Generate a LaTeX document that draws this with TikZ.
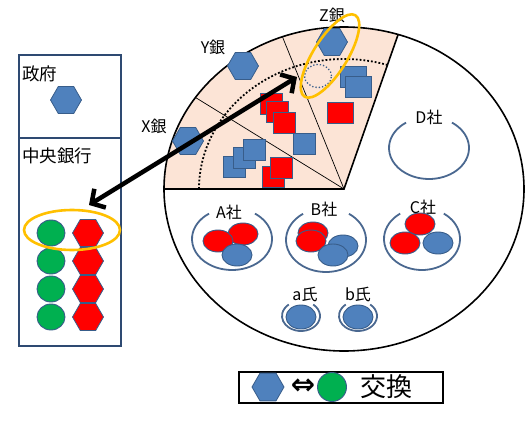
\documentclass[tikz,border=0pt]{standalone}
\usepackage{fontspec}
\setmainfont{Noto Sans CJK JP}
\newfontfamily\symfont{DejaVu Sans}
\usetikzlibrary{shapes.geometric,arrows.meta}
\definecolor{hblue}{HTML}{4F81BD}
\definecolor{hedge}{HTML}{385D8A}
\definecolor{hred}{HTML}{FF0000}
\definecolor{hgreen}{HTML}{00B050}
\definecolor{horange}{HTML}{FFC000}
\definecolor{peach}{HTML}{FCE4D6}
\definecolor{bowlc}{HTML}{4A6890}
\definecolor{boxedge}{HTML}{2E4A72}
\begin{document}
\begin{tikzpicture}[x=1pt,y=-1pt,
  hexshape/.style={regular polygon, regular polygon sides=6, minimum size=31pt, inner sep=0pt, draw=hedge, line width=0.8pt},
  hexb/.style={hexshape, fill=hblue},
  hexr/.style={hexshape, fill=hred},
  sqb/.style={rectangle, minimum width=22pt, minimum height=21pt, inner sep=0pt, fill=hblue, draw=hedge, line width=0.9pt},
  sqr/.style={sqb, fill=hred},
  coin/.style={ellipse, minimum width=30pt, minimum height=22pt, inner sep=0pt, draw=hedge, line width=0.9pt},
  coinb/.style={coin, fill=hblue},
  coinr/.style={coin, fill=hred},
  coing/.style={ellipse, minimum width=28pt, minimum height=26pt, inner sep=0pt, fill=hgreen, draw=hedge, line width=0.9pt},
  lbl/.style={inner sep=0pt, font=\fontsize{16}{18}\selectfont},
  ttl/.style={inner sep=0pt, anchor=west, font=\fontsize{17.5}{20}\selectfont},
  bowlline/.style={draw=bowlc, line width=1.8pt},
  ring/.style={draw=horange, line width=2.6pt},
  panel/.style={draw=boxedge, line width=1.8pt}
]
\useasboundingbox (0,0) rectangle (528,423);
\fill[white] (0,0) rectangle (528,423);

% ---------- left panels ----------
\draw[panel] (19,55) rectangle (121,138);
\draw[panel] (19,138) rectangle (121,346);
\node[ttl] (tgov) at (22,74) {政府};
\node[ttl] (tcb) at (22,156) {中央銀行};
\node[hexb] (hgov) at (66,100) {};
\foreach \i/\y in {1/233,2/261,3/289,4/317}{
  \node[coing] (cg\i) at (51,\y) {};
  \node[hexr] (cr\i) at (88,\y) {};
}
\node[ring, ellipse, minimum width=96pt, minimum height=40pt, inner sep=0pt] (ocb) at (72,230) {};

% ---------- big circle and wedge ----------
\coordinate (apex) at (344,189);
\fill[peach] (apex) -- ++(180:180 and 162) arc[start angle=180, end angle=287.5, x radius=180, y radius=162] -- cycle;
\draw[line width=1.6pt] (apex) ellipse [x radius=180, y radius=162];
\draw[line width=1.6pt] (apex) ++(180:180 and 162) -- (apex) -- ++(287.5:180 and 162);
\draw[line width=0.7pt] (apex) -- ++(214.4:180 and 162);
\draw[line width=0.7pt] (apex) -- ++(250:180 and 162);
\draw[line width=1.8pt, dotted] (apex) ++(180:145 and 130) arc[start angle=180, end angle=287.5, x radius=145, y radius=130];

% bank labels and hexagons
\node[lbl] (lx) at (154,126) {X銀};
\node[lbl] (ly) at (213,47) {Y銀};
\node[lbl] (lz) at (332,15) {Z銀};
\node[hexb] (hx) at (188,141) {};
\node[hexb] (hy) at (243,66) {};
\node[hexb] (hz) at (332,42) {};

% Z sector
\node[ellipse, draw=hedge, dotted, line width=1.3pt, minimum width=27pt, minimum height=23pt, inner sep=0pt] (dz) at (318,76) {};
\node[sqb, minimum width=26pt] (zb1) at (353,77) {};
\node[sqb, minimum width=26pt] (zb2) at (358,87) {};
\node[sqr, minimum width=26pt] (zr1) at (340,113) {};

% Y sector
\node[sqr] (yr1) at (271,104) {};
\node[sqr] (yr2) at (277,112) {};
\node[sqr] (yr3) at (284,123) {};
\node[sqb] (yb1) at (304,144) {};

% X sector
\node[sqb] (xb1) at (234,167) {};
\node[sqb] (xb2) at (244,158) {};
\node[sqb] (xb3) at (254,150) {};
\node[sqr] (xr1) at (273,177) {};
\node[sqr] (xr2) at (281,168) {};

% ---------- bowls ----------
\draw[bowlline] (232,239) ++(-55:40 and 31) arc[start angle=-55, end angle=235, x radius=40, y radius=31];
\draw[bowlline] (326,240) ++(-55:40 and 32) arc[start angle=-55, end angle=235, x radius=40, y radius=32];
\draw[bowlline] (422,239) ++(-55:38 and 31) arc[start angle=-55, end angle=235, x radius=38, y radius=31];
\draw[bowlline] (429,148) ++(-55:40 and 31) arc[start angle=-55, end angle=235, x radius=40, y radius=31];
\draw[bowlline] (301,316) ++(-50:19 and 15) arc[start angle=-50, end angle=230, x radius=19, y radius=15];
\draw[bowlline] (358,316) ++(-50:19 and 15) arc[start angle=-50, end angle=230, x radius=19, y radius=15];

\node[lbl] (la) at (229,212) {A社};
\node[lbl] (lb) at (324,209) {B社};
\node[lbl] (lc) at (423,207) {C社};
\node[lbl] (ld) at (429,117) {D社};
\node[lbl] (lpa) at (305,294) {a氏};
\node[lbl] (lpb) at (358,294) {b氏};

% A
\node[coinr] (ar2) at (243,234) {};
\node[coinr] (ar1) at (218,241) {};
\node[coinb] (ab1) at (237,255) {};
% B
\node[coinr] (br1) at (313,233) {};
\node[coinr] (br2) at (311,241) {};
\node[coinb] (bb1) at (343,246) {};
\node[coinb] (bb2) at (333,255) {};
% C
\node[coinr] (cr1c) at (420,224) {};
\node[coinr] (cr2c) at (405,243) {};
\node[coinb] (cb1) at (438,243) {};
% persons
\node[coinb, minimum width=30pt, minimum height=24pt] (pa) at (301,317) {};
\node[coinb, minimum width=30pt, minimum height=24pt] (pb) at (358,317) {};

% ---------- orange ring Z ----------
\draw[ring, rotate around={58:(330,56)}] (330,56) ellipse [x radius=48, y radius=17];

% ---------- big arrow ----------
\coordinate (arrL) at (89,205);
\coordinate (arrR) at (297,77);
\draw[line width=4.5pt, {Straight Barb[length=10pt,width=22pt]}-{Straight Barb[length=10pt,width=22pt]}] (arrL) -- (arrR);

% ---------- legend ----------
\draw[line width=1.8pt] (239,372) rectangle (443,403);
\node[hexb, minimum size=32pt] (lhex) at (268,387) {};
\node[inner sep=0pt, font=\symfont\fontsize{29}{30}\selectfont\bfseries] (larr) at (303,387) {⇔};
\node[coing, minimum width=29pt, minimum height=29pt] (lgc) at (332,387) {};
\node[inner sep=0pt, font=\fontsize{26}{28}\selectfont] (lx2) at (386,387) {交換};
\end{tikzpicture}
\end{document}
